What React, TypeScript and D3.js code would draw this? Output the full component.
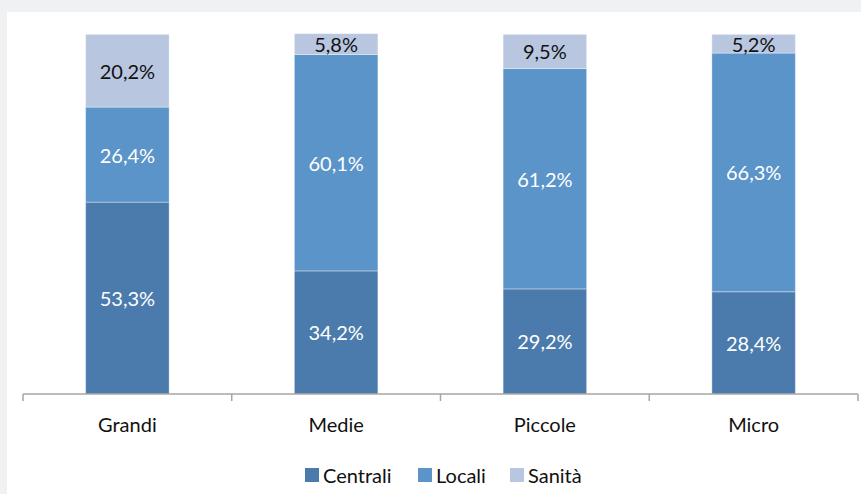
import React from "react";
import * as d3 from "d3";

const categories = ["Grandi", "Medie", "Piccole", "Micro"];
const seriesNames = ["Centrali", "Locali", "Sanità"];
const centrali = [53.3, 34.2, 29.2, 28.4];
const locali = [26.4, 60.1, 61.2, 66.3];
const sanita = [20.2, 5.8, 9.5, 5.2];
const colors = ["#4b7bad", "#5b94c9", "#b8c6e0"];
const labelColors = ["#ffffff", "#ffffff", "#111111"];

const W = 861;
const H = 494;
const FONT = "Lato, 'Open Sans', sans-serif";

export default function App() {
  const x = d3.scaleBand<string>().domain(categories).range([23, 858]).paddingInner(0.6).paddingOuter(0.3);
  const y = d3.scaleLinear().domain([0, 100]).range([394, 34]);
  const rows = categories.map((c, i) => ({ cat: c, Centrali: centrali[i], Locali: locali[i], "Sanità": sanita[i] }));
  const stack = d3.stack<any>().keys(seriesNames)(rows);
  const fmt = (v: number) => v.toFixed(1).replace(".", ",") + "%";
  const step = x.step();
  const tickXs = d3.range(categories.length + 1).map((i) => 23 + i * step);
  const legendX = [305, 418, 510];

  return (
    <div style={{ position: "fixed", left: 0, top: 0 }}>
      <svg width={W} height={H} style={{ display: "block" }}>
        <rect x={0} y={0} width={W} height={H} fill="#f0f1f3" />
        <rect x={7} y={12} width={W - 7} height={H - 12} fill="#ffffff" />
        {stack.map((s, si) => (
          <g key={s.key}>
            {s.map((d, i) => {
              const x0 = x(categories[i])!;
              const yTop = y(d[1]);
              const yBot = y(d[0]);
              return (
                <g key={i}>
                  <rect x={x0} y={yTop} width={x.bandwidth()} height={yBot - yTop} fill={colors[si]} stroke="rgba(255,255,255,0.35)" strokeWidth={1} />
                  <text x={x0 + x.bandwidth() / 2} y={(yTop + yBot) / 2} textAnchor="middle" dominantBaseline="central" fontFamily={FONT} fontSize={20} fill={labelColors[si]}>
                    {fmt(d[1] - d[0])}
                  </text>
                </g>
              );
            })}
          </g>
        ))}
        <line x1={23} x2={858} y1={394} y2={394} stroke="#a6a6a6" strokeWidth={1.5} />
        {tickXs.map((t, i) => (
          <line key={i} x1={t} x2={t} y1={394} y2={401} stroke="#a6a6a6" strokeWidth={1.5} />
        ))}
        {categories.map((c) => (
          <text key={c} x={x(c)! + x.bandwidth() / 2} y={432} textAnchor="middle" fontFamily={FONT} fontSize={20} fill="#111111">
            {c}
          </text>
        ))}
        {seriesNames.map((n, i) => (
          <g key={n}>
            <rect x={legendX[i]} y={468} width={14} height={14} fill={colors[i]} />
            <text x={legendX[i] + 18} y={475} dominantBaseline="central" fontFamily={FONT} fontSize={20} fill="#111111">
              {n}
            </text>
          </g>
        ))}
      </svg>
    </div>
  );
}
